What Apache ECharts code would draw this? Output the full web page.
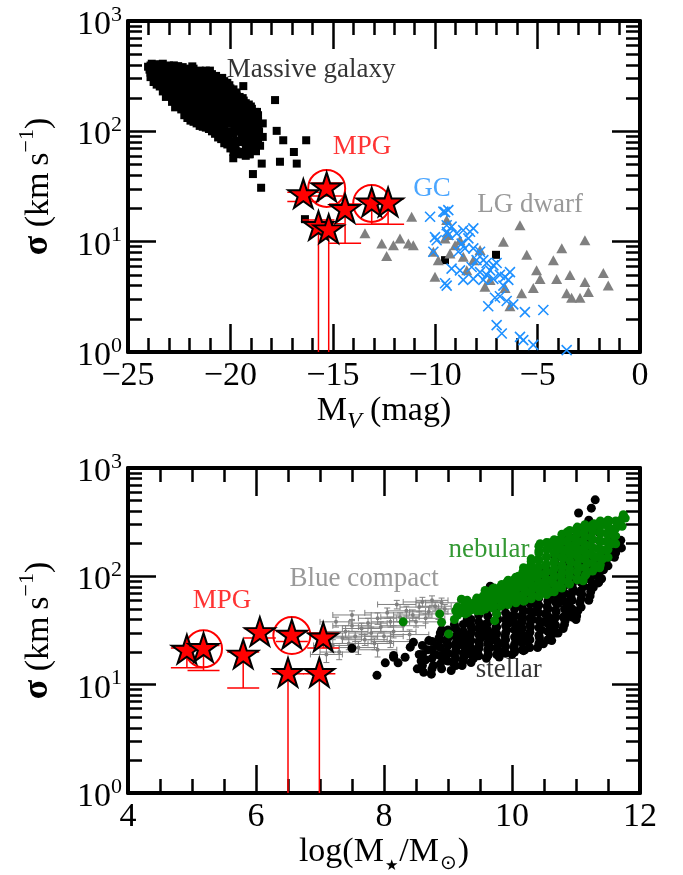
<!DOCTYPE html>
<html>
<head>
<meta charset="utf-8">
<script src="https://cdn.jsdelivr.net/npm/echarts@6/dist/echarts.min.js"></script>
<style>
  html, body { margin: 0; padding: 0; background: #ffffff; }
  #chart { width: 683px; height: 875px; }
</style>
</head>
<body>
<div id="chart"></div>
<script>
// ===== Upper panel: velocity dispersion vs absolute V magnitude =====
// massive galaxies [M_V, sigma]
const massivePoints = [
  [-24.02,385],[-23.95,362],[-23.84,410],[-23.78,332],[-23.7,300],[-23.62,378],[-23.55,350],[-23.5,292],
  [-23.42,402],[-23.38,328],[-23.33,268],[-23.28,240],[-23.2,388],[-23.15,312],[-23.1,258],[-23.05,222],
  [-23.0,372],[-22.95,330],[-22.9,280],[-22.86,238],[-22.82,200],[-22.76,396],[-22.72,300],[-22.68,250],
  [-22.64,210],[-22.6,178],[-22.55,360],[-22.5,318],[-22.46,268],[-22.42,228],[-22.38,165],[-22.33,382],
  [-22.3,300],[-22.25,240],[-22.2,198],[-22.15,150],[-22.1,340],[-22.05,282],[-22.0,220],[-21.95,180],
  [-21.9,140],[-21.86,388],[-21.82,310],[-21.78,258],[-21.74,208],[-21.7,168],[-21.65,128],[-21.6,350],
  [-21.55,290],[-21.5,240],[-21.45,195],[-21.4,155],[-21.36,120],[-21.3,330],[-21.25,270],[-21.2,225],
  [-21.15,185],[-21.1,145],[-21.05,116],[-21.0,355],[-20.95,300],[-20.9,250],[-20.85,205],[-20.8,165],
  [-20.75,130],[-20.7,318],[-20.65,270],[-20.6,220],[-20.55,180],[-20.5,145],[-20.45,98],[-20.4,305],
  [-20.35,262],[-20.3,225],[-20.25,185],[-20.2,150],[-20.15,118],[-20.1,85],[-20.05,262],[-20.0,228],
  [-19.95,195],[-19.9,160],[-19.85,130],[-19.8,105],[-19.75,72],[-19.7,225],[-19.65,195],[-19.6,165],
  [-19.55,135],[-19.5,110],[-19.45,88],[-19.4,62],[-19.35,190],[-19.3,165],[-19.25,140],[-19.2,115],
  [-19.15,95],[-19.1,78],[-19.05,62],[-19.0,168],[-18.95,140],[-18.9,115],[-18.85,95],[-18.8,80],
  [-18.75,66],[-18.7,150],[-18.65,125],[-18.6,100],[-18.55,74],
  [-19.37,257],[-17.82,192],[-16.3,83],[-17.42,83],[-17.74,101],[-16.9,65],[-17.58,53],[-16.76,51],
  [-18.47,51],[-18.9,41],[-18.5,30.8],[-19.86,57],[-18.42,89],[-18.42,118],[-16.36,16],[-9.52,6.8],[-7.03,7.6]
];
// more massive galaxies, grouped by M_V: [M_V, [sigma, ...]]
const massiveColumns = [
  [-23.9,[395,340,310]],[-23.75,[400,365,315,280]],[-23.6,[405,320,265]],[-23.45,[370,300,255]],
  [-23.3,[410,355,290,230]],[-23.15,[365,280,240,205]],[-23.0,[395,300,255,215]],
  [-22.85,[375,345,265,225,185]],[-22.7,[380,335,280,230,190,165]],[-22.55,[390,285,245,195,170]],
  [-22.4,[350,260,215,180,158]],[-22.25,[365,320,260,215,168,140]],[-22.1,[370,300,240,195,160,132]],
  [-21.95,[350,300,245,200,160,125]],[-21.8,[370,270,225,180,150,122]],[-21.65,[340,310,255,210,175,148,118]],
  [-21.5,[355,315,265,215,175,135,112]],[-21.35,[345,290,240,200,165,138,110]],[-21.2,[355,295,250,205,165,130,108]],
  [-21.05,[330,275,230,195,160,130,105]],[-20.9,[330,275,225,185,150,118,100]],[-20.75,[300,250,200,160,140,110,95]],
  [-20.6,[290,245,200,160,125,100,88]],[-20.45,[300,250,205,165,130,115,85]],[-20.3,[285,245,200,165,135,105,90,78]],
  [-20.15,[275,235,200,165,135,100,76]],[-20.0,[245,210,175,145,118,95,80,70]],[-19.85,[240,205,170,145,118,95,78,65]],
  [-19.7,[210,180,150,125,100,82,66]],[-19.55,[205,175,150,120,100,80,62]],[-19.4,[200,170,145,120,100,80,65]],
  [-19.25,[180,150,125,105,88,70,60]],[-19.1,[175,150,125,105,90,72,62]],[-18.95,[160,130,105,88,72]],
  [-18.8,[150,125,100,85,70]],[-18.65,[140,115,92,78]]
];

// Local Group dwarfs [M_V, sigma]
const dwarfPoints = [
  [-13.43,11.9],[-12.61,9.6],[-12.37,7.4],[-12.04,9.3],[-11.72,10.7],[-11.31,9.6],[-11.15,16.8],[-11.07,9.3],
  [-10.09,8.1],[-9.85,6.8],[-10.01,4.8],[-9.44,15.7],[-9.36,11.5],[-9.52,10.7],[-9.28,7.8],[-9.03,9.3],
  [-8.63,7.3],[-8.46,5.5],[-8.14,6.8],[-7.81,8.4],[-8.79,10.3],[-7.57,3.9],[-7.32,4.5],[-6.67,10.0],
  [-6.59,3.8],[-6.35,2.6],[-5.86,14.1],[-5.53,7.6],[-5.78,3.4],[-5.21,3.8],[-5.05,5.5],[-4.88,4.6],
  [-4.23,6.8],[-4.07,4.6],[-3.82,8.7],[-3.42,5.0],[-3.58,3.4],[-3.34,3.1],[-2.93,3.1],[-2.69,4.3],
  [-2.69,10.3],[-2.52,3.5],[-1.79,5.2],[-1.55,4.0]
];

// globular clusters [M_V, sigma]
const gcPoints = [
  [-10.25,16.8],[-9.6,18.7],[-9.36,19.3],[-9.44,14.1],[-9.2,13.7],[-9.93,10.3],[-9.36,11.5],[-8.95,11.9],
  [-8.63,12.7],[-8.3,12.3],[-8.14,13.2],[-8.38,10.7],[-8.71,9.6],[-10.09,8.1],[-8.87,8.1],[-8.55,8.7],
  [-8.14,8.7],[-7.81,8.1],[-7.65,6.8],[-7.98,6.8],[-8.22,5.9],[-7.49,6.4],[-7.16,6.1],[-7.0,6.4],
  [-7.32,5.5],[-7.81,5.3],[-7.49,5.0],[-7.16,4.6],[-7.65,4.5],[-8.14,4.6],[-8.63,4.5],[-9.44,4.0],
  [-8.79,5.5],[-9.2,5.7],[-6.84,5.0],[-6.59,4.8],[-6.35,5.3],[-6.43,4.5],[-6.67,4.0],[-7.08,3.1],
  [-7.41,2.6],[-6.84,3.2],[-6.51,2.9],[-6.19,2.7],[-5.62,2.3],[-4.72,2.4],[-7.0,1.75],[-6.75,1.47],
  [-5.86,1.37],[-5.7,1.28],[-5.21,1.16],[-3.58,1.04],[-9.52,18.5],[-10.01,11.0],[-9.42,12.2],[-9.52,4.2]
];

// MPG sample [M_V, sigma, sigma_low, sigma_high]; a low of 0 means the bar runs off the axis
const mpgTop = [
  [-16.44,26.4,23.1,28.0],
  [-15.3,30.4,26.0,34.0],
  [-14.4,19.4,9.7,22.0],
  [-13.1,22.2,14.4,24.5],
  [-12.3,22.2,14.4,24.5],
  [-15.7,13.6,0,15.7],
  [-15.2,12.7,0,14.5]
];
const mpgTopCircled = [1, 3];

// ===== Lower panel: velocity dispersion vs stellar mass =====
// stellar-continuum dispersions [log M*, sigma]
const stellarPoints = [
  [7.5,21.7],[7.89,12.2],[8.02,15.9],[8.15,17.9],[8.15,18.6],[8.22,15.9],[8.33,17.9],[8.41,22.2],[8.46,24.6],
  [8.52,14],[8.55,19],[8.58,16.5],[8.62,13],[8.65,17],[8.68,21],[8.7,25.5],
  [8.74,12.5],[8.77,15],[8.8,19],[8.83,23],[8.86,27],[8.9,14],[8.93,17],[8.96,20],[8.99,24],[9.02,28],
  [9.05,13.5],[9.08,16],[9.1,19],[9.13,22],[9.16,26],[9.19,30],[9.22,15],[9.25,18],[9.28,21],[9.31,24],
  [9.34,28],[9.37,33],[9.4,17.5],[9.43,19],[9.46,20],[9.49,23],[9.52,27],[9.55,31],[9.58,36],
  [9.6,17.5],[9.63,19],[9.66,22],[9.69,26],[9.72,30],[9.75,34],[9.78,40],
  [9.8,18],[9.83,20],[9.86,24],[9.89,28],[9.92,32],[9.95,37],[9.98,43],
  [10.0,19],[10.03,22],[10.06,26],[10.09,30],[10.12,35],[10.15,41],[10.18,48],
  [10.2,21],[10.23,25],[10.26,29],[10.29,34],[10.32,40],[10.35,47],[10.38,55],
  [10.4,22],[10.43,27],[10.46,32],[10.49,38],[10.52,45],[10.55,53],[10.58,62],
  [10.6,28],[10.63,34],[10.66,40],[10.69,47],[10.72,56],[10.75,66],[10.78,78],
  [10.8,33],[10.83,39],[10.86,46],[10.89,55],[10.92,65],[10.95,77],[10.98,92],
  [11.0,40],[11.03,48],[11.06,57],[11.09,68],[11.12,81],[11.15,97],[11.18,115],
  [11.2,60],[11.23,72],[11.26,86],[11.29,103],[11.32,123],[11.35,147],[11.38,175],
  [11.4,95],[11.43,115],[11.46,138],[11.49,165],[11.52,198],[11.55,235],
  [11.6,150],[11.65,185],[11.7,215],
  [10.5,120],[10.7,160],[10.9,210],[11.1,260],[11.2,330],[10.3,90],[10.1,70],[9.9,60],[9.7,55],[9.5,48],
  [9.3,40],[9.1,36],[8.9,32],
  [9.66,81],[9.94,79],[11.04,384],[10.8,243],[11.24,426],[11.3,508],[11.35,87],[11.27,79],[11.06,71],
  [11.01,43],[10.8,42],[10.72,30],[10.62,25.5],[10.49,23.8],[10.18,20.6],[11.71,183],[11.53,171]
];
// more stellar-continuum dispersions, grouped by log M*: [log M*, [sigma, ...]]
const stellarColumns = [
  [8.6,[15,19,23]],[8.75,[14,17.5,21,25]],[8.88,[15.5,18.5,22,26,30]],[9.0,[16.5,19.5,23,27,32]],
  [9.12,[15,17.5,20.5,24,28,33]],[9.24,[16.5,19.5,23,27,31,36]],[9.36,[16,19,22,25.5,30,35,40]],
  [9.48,[18.5,21.5,25,29,33,38,44]],[9.62,[18.5,21,24,28,32,37,43,50]],[9.76,[19,22,25.5,29.5,34,39,45,52]],
  [9.9,[19.5,22.5,26,30,35,40,46,54]],[10.04,[20,23.5,27.5,32,37,43,50,58,66]],
  [10.16,[21,24.5,28.5,33,38,44,51,59,68]],[10.28,[22,26,30.5,35.5,41,48,56,65,76]],
  [10.42,[24,28.5,33.5,39,46,54,63,74,86,100]],[10.56,[26,31,36.5,43,50,59,69,81,95,112]],
  [10.68,[30,35.5,42,49,58,68,80,94,110,130,150]],[10.82,[36,42.5,50,59,70,82,97,114,134,158,185]],
  [10.94,[42,50,60,71,84,99,117,138,163,192,225]],[11.08,[52,62,74,88,104,123,145,171,202,238,280]],
  [11.22,[66,79,94,112,133,158,188,223,265,310]],[11.36,[90,107,127,151,180,214,254,300]],
  [11.5,[125,148,176,209,248]],[11.62,[165,195,230]]
];

// nebular-line dispersions [log M*, sigma]
const nebularPoints = [
  [8.3,38],[8.87,45],[8.9,37.6],[9.01,29.4],
  [9.1,40],[9.12,48],[9.19,46],[9.21,61.5],[9.25,53],[9.27,45],[9.34,48],[9.38,56],
  [9.42,50],[9.45,62],[9.5,57],[9.52,48],[9.55,66],[9.6,52],[9.62,60],[9.64,72],[9.68,66],[9.7,55],
  [9.72,78],[9.73,39],[9.76,45],[9.78,62],[9.81,71],[9.84,84],[9.86,55],[9.88,66],[9.9,76],[9.92,88],
  [9.95,58],[9.97,70],[10.0,82],[10.02,92],[10.04,62],[10.06,75],[10.08,88],[10.1,100],[10.12,65],
  [10.14,80],[10.15,95],[10.17,110],[10.2,60],[10.22,72],[10.24,88],[10.26,104],[10.28,122],[10.3,138],
  [10.32,66],[10.34,80],[10.36,98],[10.38,118],[10.4,142],[10.42,172],[10.44,200],[10.46,70],[10.48,85],
  [10.5,104],[10.52,126],[10.54,152],[10.56,180],[10.58,204],[10.6,72],[10.62,92],[10.64,112],[10.66,135],
  [10.68,160],[10.7,188],[10.72,215],[10.74,80],[10.76,100],[10.78,122],[10.8,148],[10.82,175],[10.84,210],
  [10.86,255],[10.88,88],[10.9,110],[10.92,134],[10.94,160],[10.96,190],[10.98,225],[11.0,270],[11.02,95],
  [11.04,120],[11.06,146],[11.08,175],[11.1,210],[11.12,250],[11.14,290],[11.16,105],[11.18,132],[11.2,160],
  [11.22,192],[11.24,230],[11.26,275],[11.28,305],[11.3,120],[11.32,150],[11.34,180],[11.36,215],[11.38,255],
  [11.4,300],[11.42,145],[11.44,175],[11.46,210],[11.48,250],[11.5,290],[11.52,325],[11.55,200],[11.58,261],
  [11.6,235],[11.62,280],[11.65,320],[11.68,300],[11.74,371],[11.77,345],[11.11,91],[11.37,120]
];
// more nebular-line dispersions, grouped by log M*: [log M*, [sigma, ...]]
const nebularColumns = [
  [9.15,[44,52]],[9.3,[46,53,60]],[9.45,[48,55,63]],[9.58,[50,57,65,74]],[9.7,[51,59,68,77]],
  [9.82,[53,61,70,80]],[9.94,[55,63,72,83,92]],[10.06,[57,66,76,88,98]],
  [10.18,[59,68,79,91,105,120]],[10.3,[62,72,84,97,112,128,145]],
  [10.42,[65,76,89,104,121,141,164,190]],[10.54,[68,80,94,110,129,151,177,205]],
  [10.66,[72,85,100,118,139,164,193,218]],[10.78,[78,92,108,127,150,177,209,245]],
  [10.9,[85,100,118,139,164,193,227,265]],[11.02,[93,110,130,153,180,212,250,285]],
  [11.14,[101,120,142,167,197,232,272,300]],[11.26,[112,133,157,185,218,257,300]],
  [11.38,[128,151,178,210,248,292,325]],[11.5,[150,177,209,246,290,330]],
  [11.62,[200,236,278,325]],[11.72,[290,340]]
];

// blue compact dwarfs [log M*, sigma, log M* error, sigma error]
const bcdPoints = [
  [7.10,19,0.25,3],[7.20,23,0.30,3],[7.25,38,0.25,4],[7.30,20,0.30,3],[7.35,27,0.30,3],
  [7.40,31,0.35,4],[7.45,24,0.30,3],[7.50,35,0.30,4],[7.55,28,0.35,3],[7.60,22,0.30,3],
  [7.65,33,0.30,4],[7.70,26,0.35,3],[7.75,37,0.30,4],[7.80,30,0.35,4],[7.85,24,0.30,3],
  [7.90,41,0.30,5],[7.95,34,0.35,4],[8.00,28,0.30,3],[8.05,46,0.35,5],[8.10,38,0.30,4],
  [8.15,31,0.35,4],[8.20,55,0.30,5],[8.25,42,0.30,4],[8.30,35,0.35,4],[8.35,48,0.30,5],
  [8.40,29,0.30,3],[8.45,44,0.30,5],[8.50,38,0.35,4],[8.55,52,0.30,5],[8.60,58,0.30,6],
  [8.65,41,0.30,4],[8.70,47,0.30,5],[8.75,60,0.25,6],[8.80,53,0.25,5],[8.85,45,0.30,5],
  [8.90,57,0.25,6],[8.95,50,0.25,5],[7.90,21,0.30,3],[8.10,25,0.30,3],[7.50,44,0.30,4]
];

// MPG sample [log M*, sigma, sigma_low, sigma_high]
const mpgBottom = [
  [4.92,20.6,14.3,21.8],
  [5.18,21.4,13.5,23.0],
  [5.80,18.6,9.3,20.0],
  [6.06,30.0,27.0,33.0],
  [6.56,28.4,25.0,31.0],
  [7.05,26.8,21.8,30.0],
  [6.50,12.6,0,12.6],
  [6.99,12.6,0,12.6]
];
const mpgBottomCircled = [1, 4];

// text annotations placed in data coordinates
const topNotes = [
  { text: 'Massive galaxy', x: -16.06, y: 360, color: '#000000' },
  { text: 'MPG', x: -13.57, y: 72, color: '#ff0000' },
  { text: 'GC', x: -10.16, y: 30, color: '#1e90ff' },
  { text: 'LG dwarf', x: -5.37, y: 21.5, color: '#808080' }
];
const bottomNotes = [
  { text: 'MPG', x: 5.47, y: 59, color: '#ff0000' },
  { text: 'Blue compact', x: 7.69, y: 94, color: '#808080' },
  { text: 'nebular', x: 9.64, y: 175, color: '#008000' },
  { text: 'stellar', x: 9.95, y: 13.7, color: '#000000' }
];

// ===== helpers =====
function expandColumns(cols) {
  const out = [];
  cols.forEach(function (c) { c[1].forEach(function (s) { out.push([c[0], s]); }); });
  return out;
}

const FONT = '"Liberation Serif", "DejaVu Serif", "Times New Roman", serif';
const STAR = 'path://M0,-10L2.245,-3.09L9.511,-3.09L3.633,1.18L5.878,8.09L0,3.82L-5.878,8.09L-3.633,1.18L-9.511,-3.09L-2.245,-3.09Z';
const CROSS = 'path://M0,0L10,10M10,0L0,10';
const AXIS_W = 4, TICK_W = 2.5, MAJOR = 28, MINOR = 14;

const minorLogValues = [];
for (let d = 0; d < 3; d++) for (let k = 2; k <= 9; k++) minorLogValues.push(d + Math.log10(k));

const tickStyle = { color: '#000', width: TICK_W };
const richBase = { fontFamily: FONT, fontSize: 34, color: '#000', lineHeight: 34, verticalAlign: 'top', padding: [4, 0, 0, 0] };
const richSup = { fontFamily: FONT, fontSize: 22, color: '#000', lineHeight: 22, verticalAlign: 'top' };

function xAxes(grid, min, max, interval, split, name, fmt) {
  const common = {
    type: 'value', gridIndex: grid, min: min, max: max, interval: interval,
    axisLine: { show: true, onZero: false, lineStyle: { color: '#000', width: AXIS_W } },
    axisTick: { show: true, inside: true, length: MAJOR, lineStyle: tickStyle },
    minorTick: { show: true, splitNumber: split, length: MINOR, lineStyle: tickStyle },
    splitLine: { show: false }, minorSplitLine: { show: false }
  };
  return [
    Object.assign({}, common, {
      position: 'bottom',
      axisLabel: { show: true, margin: 7, color: '#000', fontFamily: FONT, fontSize: 34,
        showMinLabel: true, showMaxLabel: true, formatter: fmt },
      name: name, nameLocation: 'middle', nameGap: 42,
      nameTextStyle: {
        fontFamily: FONT, fontSize: 34, color: '#000',
        rich: {
          t: { fontFamily: FONT, fontSize: 34, color: '#000', lineHeight: 34, verticalAlign: 'top' },
          sub: { fontFamily: FONT, fontSize: 24, fontStyle: 'italic', color: '#000', lineHeight: 24, verticalAlign: 'top', padding: [16, 0, 0, 0] },
          sym: { fontFamily: '"DejaVu Sans", ' + FONT, fontSize: 15, color: '#000', lineHeight: 15, verticalAlign: 'top', padding: [24, 1, 0, 1] },
          sun: { fontFamily: '"DejaVu Sans", ' + FONT, fontSize: 20, color: '#000', lineHeight: 20, verticalAlign: 'top', padding: [19, 1, 0, 1] }
        }
      }
    }),
    Object.assign({}, common, { position: 'top', axisLabel: { show: false } })
  ];
}

function yAxes(grid) {
  const logCommon = {
    type: 'log', logBase: 10, gridIndex: grid, min: 1, max: 1000,
    axisLine: { show: true, onZero: false, lineStyle: { color: '#000', width: AXIS_W } },
    axisTick: { show: true, inside: true, length: MAJOR, lineStyle: tickStyle },
    minorTick: { show: false }, splitLine: { show: false }, minorSplitLine: { show: false }
  };
  const minorCommon = {
    type: 'value', gridIndex: grid, min: 0, max: 3,
    axisLine: { show: false, onZero: false },
    axisTick: { show: true, inside: true, length: MINOR, lineStyle: tickStyle, customValues: minorLogValues },
    axisLabel: { show: false }, splitLine: { show: false }
  };
  return [
    Object.assign({}, logCommon, {
      position: 'left',
      axisLabel: {
        show: true, margin: 6, showMinLabel: true, showMaxLabel: true,
        formatter: function (v) { return '{b|10}{s|' + Math.round(Math.log10(v)) + '}'; },
        rich: { b: richBase, s: richSup }
      },
      name: '{g|σ}{t| (km\u2009s}{s|\u22121}{t|)}',
      nameLocation: 'middle', nameRotate: 90, nameGap: 76,
      nameTextStyle: {
        fontFamily: FONT, fontSize: 34, color: '#000',
        rich: {
          g: { fontFamily: FONT, fontSize: 36, fontWeight: 'bold', color: '#000', lineHeight: 36, verticalAlign: 'top', padding: [4, 0, 0, 0] },
          t: { fontFamily: FONT, fontSize: 34, color: '#000', lineHeight: 34, verticalAlign: 'top', padding: [6, 0, 0, 0] },
          s: { fontFamily: FONT, fontSize: 22, color: '#000', lineHeight: 22, verticalAlign: 'top' }
        }
      }
    }),
    Object.assign({}, minorCommon, { position: 'left' }),
    Object.assign({}, logCommon, { position: 'right', axisLabel: { show: false } }),
    Object.assign({}, minorCommon, { position: 'right' })
  ];
}

function dots(data, xi, yi, symbol, size, style) {
  return {
    type: 'scatter', xAxisIndex: xi, yAxisIndex: yi, z: 2, silent: true,
    symbol: symbol, symbolSize: size, itemStyle: Object.assign({ opacity: 1 }, style), data: data
  };
}

function errorBars(rows, xi, yi) {
  return {
    type: 'custom', xAxisIndex: xi, yAxisIndex: yi, z: 3, silent: true, clip: true,
    data: rows.map(function (r) { return [r[0], r[1], r[2], r[3]]; }),
    encode: { x: 0, y: 1 },
    renderItem: function (params, api) {
      const x = api.value(0), lo = api.value(2), hi = api.value(3);
      const cs = params.coordSys;
      const top = api.coord([x, hi]);
      const botY = lo > 0 ? api.coord([x, lo])[1] : cs.y + cs.height;
      const st = { stroke: '#ff0000', lineWidth: 1.5 };
      const half = 16;
      const kids = [
        { type: 'line', shape: { x1: top[0], y1: top[1], x2: top[0], y2: botY }, style: st },
        { type: 'line', shape: { x1: top[0] - half, y1: top[1], x2: top[0] + half, y2: top[1] }, style: st }
      ];
      if (lo > 0) kids.push({ type: 'line', shape: { x1: top[0] - half, y1: botY, x2: top[0] + half, y2: botY }, style: st });
      return { type: 'group', children: kids };
    }
  };
}

function circles(rows, idx, xi, yi) {
  const s = dots(idx.map(function (i) { return [rows[i][0], rows[i][1]]; }), xi, yi, 'circle', 37,
    { color: 'rgba(0,0,0,0)', borderColor: '#ff0000', borderWidth: 2 });
  s.z = 4;
  return s;
}

function stars(rows, xi, yi) {
  const s = dots(rows.map(function (r) { return [r[0], r[1]]; }), xi, yi, STAR, [30, 28.5],
    { color: '#ff0000', borderColor: '#000000', borderWidth: 2 });
  s.symbolOffset = [0, -1.5];
  s.z = 5;
  return s;
}

function notes(list, xi, yi) {
  return {
    type: 'scatter', xAxisIndex: xi, yAxisIndex: yi, z: 6, silent: true,
    symbolSize: 1, itemStyle: { color: 'rgba(0,0,0,0)' },
    data: list.map(function (n) {
      return { name: n.text, value: [n.x, n.y], label: { color: n.color } };
    }),
    label: { show: true, position: 'inside', formatter: '{b}', fontFamily: FONT, fontSize: 27 }
  };
}

const minusFmt = function (v) { return v < 0 ? '\u2212' + (-v) : String(v); };
const topX = xAxes(0, -25, 0, 5, 5, '{t|M}{sub|V}{t| (mag)}', minusFmt);
const botX = xAxes(1, 4, 12, 2, 4, '{t|log(M}{sym|★}{t|/M}{sun|⊙}{t|)}', function (v) { return String(v); });

const option = {
  backgroundColor: '#ffffff',
  animation: false,
  grid: [
    { left: 128, top: 21, width: 512, height: 331 },
    { left: 128, top: 468, width: 512, height: 327 }
  ],
  xAxis: [topX[0], topX[1], botX[0], botX[1]],
  yAxis: yAxes(0).concat(yAxes(1)),
  series: [
    // upper panel
    dots(massivePoints.concat(expandColumns(massiveColumns)), 0, 0, 'rect', 8, { color: '#000000' }),
    dots(dwarfPoints, 0, 0, 'triangle', [11, 10], { color: '#808080' }),
    dots(gcPoints, 0, 0, CROSS, 10, { color: 'rgba(0,0,0,0)', borderColor: '#1e90ff', borderWidth: 1.6 }),
    errorBars(mpgTop, 0, 0),
    circles(mpgTop, mpgTopCircled, 0, 0),
    stars(mpgTop, 0, 0),
    notes(topNotes, 0, 0),

    // lower panel
    { type: 'custom', xAxisIndex: 2, yAxisIndex: 4, z: 2, silent: true, clip: true,
      data: bcdPoints, encode: { x: 0, y: 1 },
      renderItem: function (params, api) {
        const x = api.value(0), s = api.value(1), xe = api.value(2), se = api.value(3);
        const l = api.coord([x - xe, s]), r = api.coord([x + xe, s]);
        const t = api.coord([x, s + se]), b = api.coord([x, s - se]);
        const st = { stroke: '#808080', lineWidth: 1 };
        const c = 3;
        return { type: 'group', children: [
          { type: 'line', shape: { x1: l[0], y1: l[1], x2: r[0], y2: r[1] }, style: st },
          { type: 'line', shape: { x1: l[0], y1: l[1] - c, x2: l[0], y2: l[1] + c }, style: st },
          { type: 'line', shape: { x1: r[0], y1: r[1] - c, x2: r[0], y2: r[1] + c }, style: st },
          { type: 'line', shape: { x1: t[0], y1: t[1], x2: b[0], y2: b[1] }, style: st },
          { type: 'line', shape: { x1: t[0] - c, y1: t[1], x2: t[0] + c, y2: t[1] }, style: st },
          { type: 'line', shape: { x1: b[0] - c, y1: b[1], x2: b[0] + c, y2: b[1] }, style: st }
        ] };
      }
    },
    dots(bcdPoints.map(function (p) { return [p[0], p[1]]; }), 2, 4, 'circle', 4, { color: '#808080' }),
    dots(stellarPoints.concat(expandColumns(stellarColumns)), 2, 4, 'circle', 9, { color: '#000000' }),
    dots(nebularPoints.concat(expandColumns(nebularColumns)), 2, 4, 'circle', 9, { color: '#008000' }),
    errorBars(mpgBottom, 2, 4),
    circles(mpgBottom, mpgBottomCircled, 2, 4),
    stars(mpgBottom, 2, 4),
    notes(bottomNotes, 2, 4)
  ]
};

const chart = echarts.init(document.getElementById('chart'), null, { renderer: 'canvas' });
chart.setOption(option);
</script>
</body>
</html>
